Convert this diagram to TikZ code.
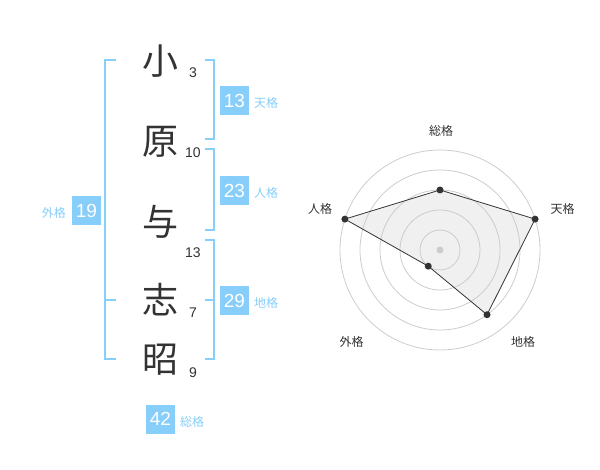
\documentclass[tikz,border=0pt]{standalone}
\usepackage{fontspec}
\usetikzlibrary{calc}
\setmainfont{Liberation Sans}
\newfontfamily\cjk{Noto Sans CJK JP}
\definecolor{skyb}{RGB}{135,206,250}
\definecolor{ink}{RGB}{51,51,51}
\definecolor{ring}{RGB}{204,204,204}
\definecolor{polyfill}{RGB}{240,240,240}
\tikzset{
  kanji/.style={font=\cjk\fontsize{36}{36}\selectfont, text=ink, inner sep=0pt},
  strokes/.style={font=\fontsize{14}{14}\selectfont, text=ink, inner sep=0pt},
  valbox/.style={fill=skyb, text=white, minimum width=28.5pt, minimum height=29pt, inner sep=0pt, font=\fontsize{19}{19}\selectfont},
  vallabel/.style={font=\cjk\fontsize{12}{12}\selectfont, text=skyb, inner sep=0pt},
  brk/.style={draw=skyb, line width=2pt},
  radlabel/.style={font=\cjk\fontsize{12}{12}\selectfont, text=ink, inner sep=0pt},
  ringline/.style={draw=ring, line width=0.8pt},
  dot/.style={circle, fill=ink, inner sep=0pt, minimum size=7pt},
}
\begin{document}
\begin{tikzpicture}[x=1pt, y=-1pt]
\useasboundingbox (0,0) rectangle (600,470);
% kanji
\node[kanji] (k1) at (160,61) {小};
\node[kanji] (k2) at (160,142) {原};
\node[kanji] (k3) at (160,222) {与};
\node[kanji] (k4) at (160,300) {志};
\node[kanji] (k5) at (160,360) {昭};
% stroke counts
\node[strokes] (n1) at (193,72.5) {3};
\node[strokes] (n2) at (193,153) {10};
\node[strokes] (n3) at (193,252.5) {13};
\node[strokes] (n4) at (193,312.5) {7};
\node[strokes] (n5) at (193,372.5) {9};
% left bracket (gaikaku)
\coordinate (lb1) at (116,60);
\coordinate (lb2) at (105,60);
\coordinate (lb3) at (105,359);
\coordinate (lb4) at (116,359);
\coordinate (lbm1) at (105,300);
\coordinate (lbm2) at (116,300);
\draw[brk] (lb1) -- (lb2) -- (lb3) -- (lb4);
\draw[brk] (lbm1) -- (lbm2);
% right brackets
\coordinate (t1) at (205,60);
\coordinate (t2) at (214,60);
\coordinate (t3) at (214,139);
\coordinate (t4) at (205,139);
\draw[brk] (t1) -- (t2) -- (t3) -- (t4);
\coordinate (j1) at (205,149);
\coordinate (j2) at (214,149);
\coordinate (j3) at (214,230);
\coordinate (j4) at (205,230);
\draw[brk] (j1) -- (j2) -- (j3) -- (j4);
\coordinate (c1) at (205,240);
\coordinate (c2) at (214,240);
\coordinate (c3) at (214,359);
\coordinate (c4) at (205,359);
\coordinate (cm1) at (205,300);
\coordinate (cm2) at (214,300);
\draw[brk] (c1) -- (c2) -- (c3) -- (c4);
\draw[brk] (cm1) -- (cm2);
% value boxes
\node[valbox] (b13) at (234.5,100.5) {13};
\node[vallabel, anchor=west] (l13) at (254,103) {天格};
\node[valbox] (b23) at (234.5,190.5) {23};
\node[vallabel, anchor=west] (l23) at (254,193) {人格};
\node[valbox] (b29) at (234.5,300.5) {29};
\node[vallabel, anchor=west] (l29) at (254,303) {地格};
\node[valbox] (b19) at (86.5,210.5) {19};
\node[vallabel, anchor=east] (l19) at (66,213) {外格};
\node[valbox] (b42) at (160.5,419) {42};
\node[vallabel, anchor=west] (l42) at (180,422) {総格};
% radar
\coordinate (ctr) at (440,250);
\coordinate (vs) at ($(ctr)+(-90:60)$);
\coordinate (vt) at ($(ctr)+(-18:100)$);
\coordinate (vc) at ($(ctr)+(54:80)$);
\coordinate (vg) at ($(ctr)+(126:20)$);
\coordinate (vj) at ($(ctr)+(-162:100)$);
\fill[polyfill] (vs) -- (vt) -- (vc) -- (vg) -- (vj) -- cycle;
\foreach \r in {20,40,60,80,100} {
  \draw[ringline] (ctr) circle[radius=\r];
}
\fill[ring] (ctr) circle[radius=3.5];
\draw[draw=ink, line width=0.8pt] (vs) -- (vt) -- (vc) -- (vg) -- (vj) -- cycle;
\foreach \p in {vs,vt,vc,vg,vj} {
  \node[dot] at (\p) {};
}
\node[radlabel] (rs) at (441,130.5) {総格};
\node[radlabel] (rt) at (562.5,209) {天格};
\node[radlabel] (rj) at (320,209) {人格};
\node[radlabel] (rc) at (523,341.5) {地格};
\node[radlabel] (rg) at (351.5,341.5) {外格};
\end{tikzpicture}
\end{document}
